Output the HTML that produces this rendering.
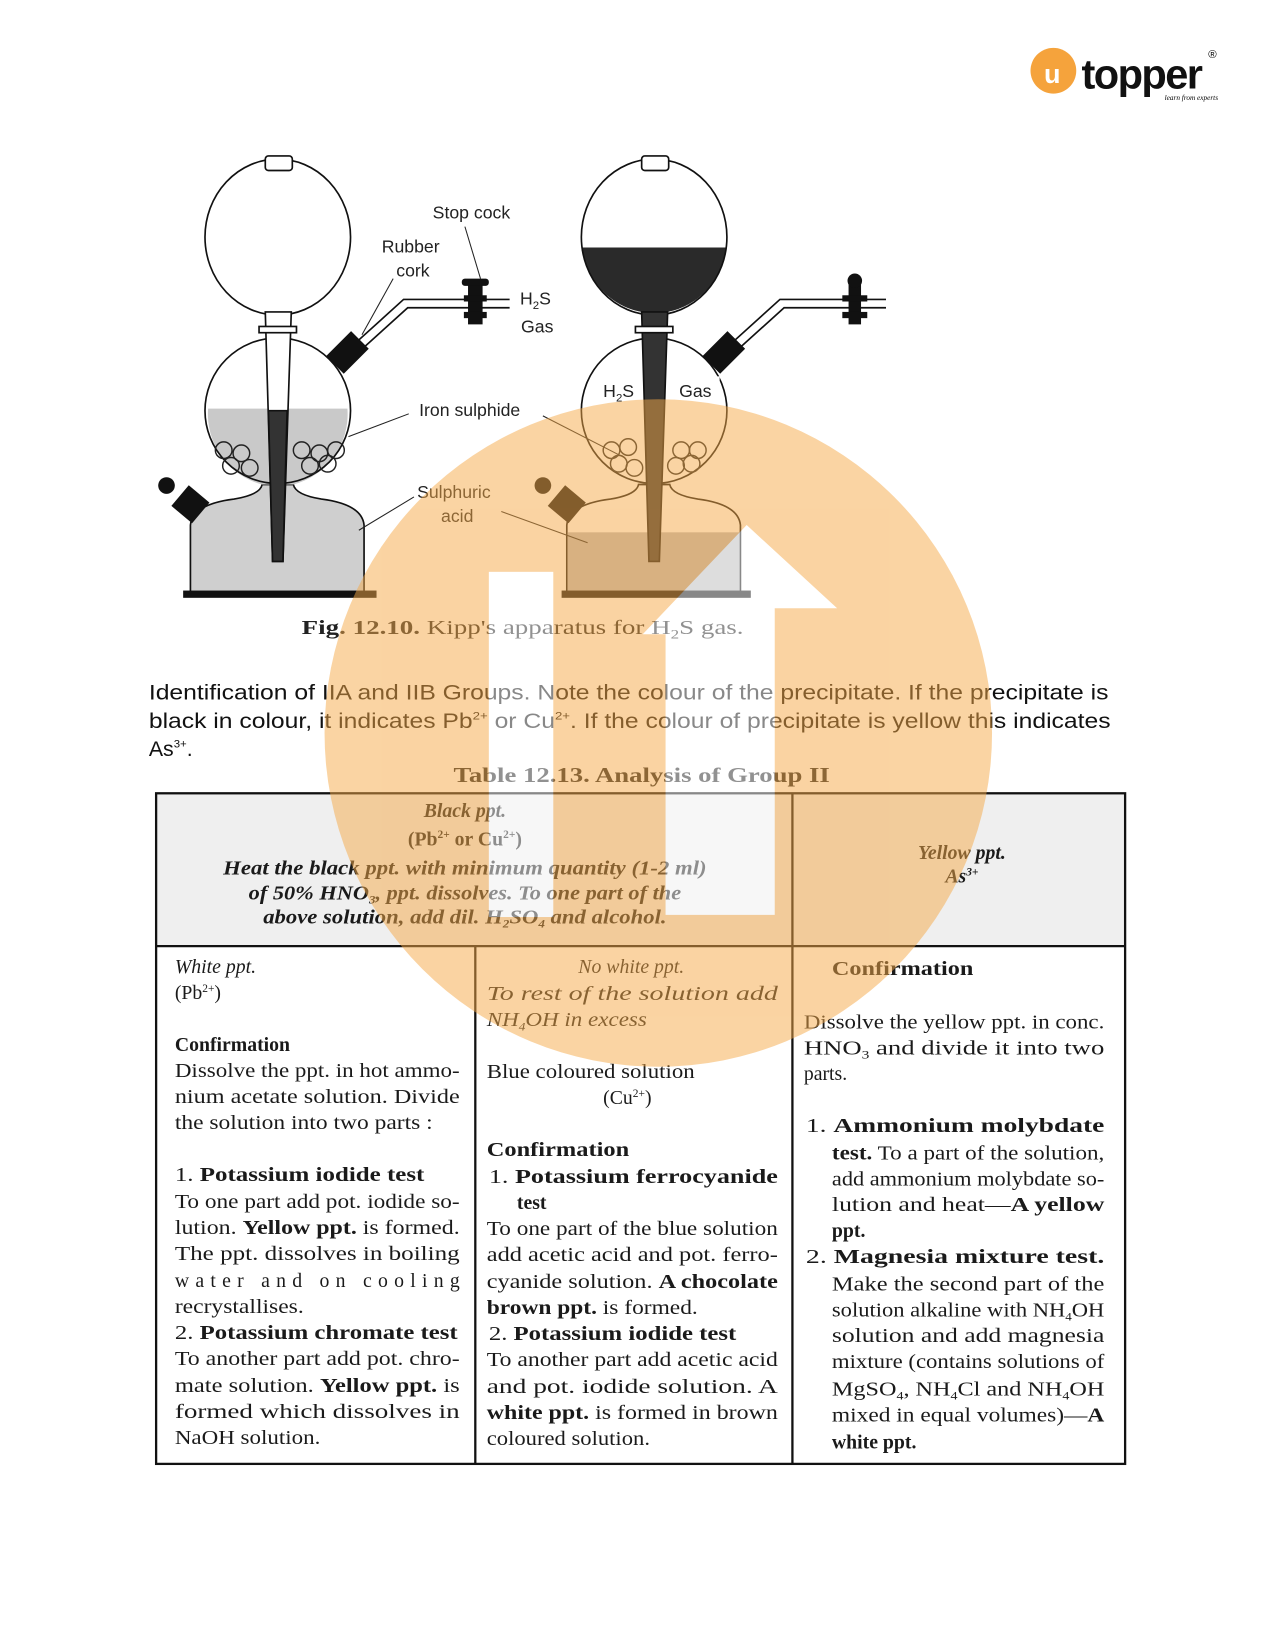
<!DOCTYPE html>
<html><head><meta charset="utf-8"><style>
html,body{margin:0;padding:0;background:#fff}
svg{display:block}
.sans{font-family:"Liberation Sans",sans-serif}
.serif{font-family:"Liberation Serif",serif}
</style></head><body>
<svg width="1275" height="1650" viewBox="0 0 1226 1587" xmlns="http://www.w3.org/2000/svg">
<!-- logo -->
<circle cx="1013" cy="68" r="22" fill="#f5a33c"/>
<text x="1004" y="80" font-size="26" fill="#fff" class="sans" font-weight="bold">u</text>
<text x="1040" y="85" font-size="40" class="sans" font-weight="bold" fill="#111" letter-spacing="-1.5">topper</text>
<text x="1162" y="56" font-size="11" class="sans">®</text>
<text x="1120" y="96" font-size="7" class="serif" font-style="italic">learn from experts</text>

<!-- LEFT APPARATUS -->
<g stroke="#111" stroke-width="1.6" fill="none">
 <path d="M183,570 L183,505 Q185,485 225,480 Q250,476 252,466 L282,466 Q284,476 309,480 Q348,485 350,505 L350,570 Z" fill="#cfcfcf"/>
 <path d="M200,393 L334,393 A70,70 0 0 1 282,466 L252,466 A70,70 0 0 1 200,393Z" fill="#c9c9c9" stroke="none"/>
 <circle cx="267" cy="395" r="70"/>
 <ellipse cx="267" cy="228" rx="70" ry="75"/>
 <rect x="255" y="150" width="26" height="14" rx="3" fill="#fff"/>
 <path d="M255,300 L262,540 L272,540 L280,300 Z" fill="#fff"/>
 <path d="M258,395 L262,540 L272,540 L276,395 Z" fill="#333"/>
 <rect x="249" y="314" width="36" height="6" fill="#fff"/>
 <path d="M330,352 L392,296 L490,296 M325,345 L388,288 L490,288"/>
</g>
<g fill="none" stroke="#222" stroke-width="1.4">
 <circle cx="215" cy="433" r="8"/><circle cx="232" cy="436" r="8"/><circle cx="290" cy="433" r="8"/><circle cx="307" cy="436" r="8"/><circle cx="323" cy="433" r="8"/>
 <circle cx="222" cy="448" r="8"/><circle cx="240" cy="450" r="8"/><circle cx="298" cy="448" r="8"/><circle cx="315" cy="446" r="8"/>
</g>
<g fill="#111">
 <rect x="322" y="322" width="24" height="34" transform="rotate(45 334 339)"/>
 <rect x="450" y="272" width="14" height="40"/><rect x="444" y="268" width="26" height="7" rx="3"/><rect x="446" y="300" width="22" height="6"/><rect x="446" y="284" width="22" height="6"/>
 <rect x="170" y="472" width="26" height="26" transform="rotate(40 183 485)"/><circle cx="160" cy="467" r="8"/>
 <rect x="176" y="568" width="186" height="7"/>
</g>

<!-- RIGHT APPARATUS -->
<g stroke="#111" stroke-width="1.6" fill="none">
 <path d="M545,570 L545,505 Q547,485 587,480 Q612,476 614,466 L644,466 Q646,476 671,480 Q710,485 712,505 L712,570 Z"/>
 <rect x="546" y="512" width="165" height="58" fill="#bbb" stroke="none"/>
 <circle cx="629" cy="395" r="70"/>
 <path d="M559,238 L699,238 A70,75 0 0 1 642,300 L617,300 A70,75 0 0 1 559,238Z" fill="#2a2a2a" stroke="none"/>
 <ellipse cx="629" cy="228" rx="70" ry="75"/>
 <rect x="617" y="150" width="26" height="14" rx="3" fill="#fff"/>
 <path d="M617,300 L624,540 L634,540 L642,300 Z" fill="#333"/>
 <rect x="611" y="314" width="36" height="6" fill="#fff"/>
 <path d="M692,352 L754,296 L852,296 M687,345 L750,288 L852,288"/>
</g>
<g fill="none" stroke="#222" stroke-width="1.4">
 <circle cx="588" cy="433" r="8"/><circle cx="604" cy="430" r="8"/><circle cx="655" cy="433" r="8"/><circle cx="671" cy="433" r="8"/>
 <circle cx="595" cy="446" r="8"/><circle cx="610" cy="450" r="8"/><circle cx="650" cy="448" r="8"/><circle cx="665" cy="446" r="8"/>
</g>
<g fill="#111">
 <rect x="684" y="322" width="24" height="34" transform="rotate(45 696 339)"/>
 <rect x="816" y="272" width="12" height="40"/><circle cx="822" cy="270" r="7"/><rect x="810" y="300" width="24" height="6"/><rect x="810" y="284" width="24" height="6"/>
 <rect x="532" y="472" width="26" height="26" transform="rotate(40 545 485)"/><circle cx="522" cy="467" r="8"/>
 <rect x="540" y="568" width="182" height="7"/>
</g>
<rect x="578" y="362" width="35" height="28" fill="#fff"/><rect x="646" y="362" width="46" height="28" fill="#fff"/>

<!-- leaders -->
<g stroke="#222" stroke-width="1">
 <line x1="447" y1="218" x2="462" y2="268"/><line x1="378" y1="268" x2="348" y2="322"/>
 <line x1="393" y1="398" x2="335" y2="420"/><line x1="522" y1="400" x2="600" y2="440"/>
 <line x1="398" y1="478" x2="345" y2="510"/><line x1="482" y1="492" x2="565" y2="522"/>
</g>
<g class="sans" font-size="17" fill="#222">
 <text x="416" y="210">Stop cock</text><text x="367" y="243">Rubber</text><text x="381" y="266">cork</text>
 <text x="500" y="293">H<tspan font-size="11" dy="4">2</tspan><tspan dy="-4">S</tspan></text><text x="501" y="320">Gas</text>
 <text x="403" y="400">Iron sulphide</text><text x="401" y="479">Sulphuric</text><text x="424" y="502">acid</text>
 <text x="580" y="382">H<tspan font-size="11" dy="4">2</tspan><tspan dy="-4">S</tspan></text><text x="653" y="382">Gas</text>
</g>
<text x="290" y="610" class="serif" font-size="19" fill="#222" textLength="425" lengthAdjust="spacingAndGlyphs"><tspan font-weight="bold">Fig. 12.10.</tspan> Kipp's apparatus for H<tspan font-size="12" dy="4">2</tspan><tspan dy="-4">S gas.</tspan></text>

<!-- intro -->
<g class="sans" font-size="20.5" fill="#111">
 <text x="143" y="673" textLength="923" lengthAdjust="spacingAndGlyphs">Identification of IIA and IIB Groups. Note the colour of the precipitate. If the precipitate is</text>
 <text x="143" y="700" textLength="925" lengthAdjust="spacingAndGlyphs">black in colour, it indicates Pb<tspan font-size="11" dy="-8">2+</tspan><tspan dy="8"> or Cu</tspan><tspan font-size="11" dy="-8">2+</tspan><tspan dy="8">. If the colour of precipitate is yellow this indicates</tspan></text>
 <text x="143" y="727">As<tspan font-size="11" dy="-8">3+</tspan><tspan dy="8">.</tspan></text>
</g>
<text x="617" y="752" text-anchor="middle" class="serif" font-size="20" font-weight="bold" fill="#222" textLength="362" lengthAdjust="spacingAndGlyphs">Table 12.13. Analysis of Group II</text>

<!-- table -->
<rect x="150" y="763" width="932" height="147" fill="#efefef"/>
<g stroke="#111" stroke-width="2.2" fill="none">
 <rect x="150" y="763" width="932" height="645"/>
 <line x1="150" y1="910" x2="1082" y2="910"/>
 <line x1="762" y1="763" x2="762" y2="1408"/>
 <line x1="457" y1="910" x2="457" y2="1408"/>
</g>
<g class="serif" font-size="19" fill="#1a1a1a">
 <g text-anchor="middle" font-style="italic">
  <text x="447" y="786" font-weight="bold">Black ppt.</text>
  <text x="447" y="813" font-weight="bold" font-style="normal">(Pb<tspan font-size="11" dy="-7">2+</tspan><tspan dy="7"> or Cu</tspan><tspan font-size="11" dy="-7">2+</tspan><tspan dy="7">)</tspan></text>
  <text x="447" y="841" font-weight="bold" textLength="465" lengthAdjust="spacingAndGlyphs">Heat the black ppt. with minimum quantity (1-2 ml)</text>
  <text x="447" y="865" font-weight="bold" textLength="416" lengthAdjust="spacingAndGlyphs">of 50% HNO<tspan font-size="11" dy="4">3</tspan><tspan dy="-4">, ppt. dissolves. To one part of the</tspan></text>
  <text x="447" y="888" font-weight="bold" textLength="388" lengthAdjust="spacingAndGlyphs">above solution, add dil. H<tspan font-size="11" dy="4">2</tspan><tspan dy="-4">SO</tspan><tspan font-size="11" dy="4">4</tspan><tspan dy="-4"> and alcohol.</tspan></text>
  <text x="925" y="826" font-weight="bold">Yellow ppt.</text>
  <text x="925" y="849" font-weight="bold">As<tspan font-size="11" dy="-7">3+</tspan></text>
 </g>
 <!-- col 1 -->
 <text x="168" y="936" font-style="italic">White ppt.</text>
 <text x="168" y="961">(Pb<tspan font-size="11" dy="-7">2+</tspan><tspan dy="7">)</tspan></text>
 <text x="168" y="1011" font-weight="bold">Confirmation</text>
 <text x="168" y="1036" textLength="274" lengthAdjust="spacingAndGlyphs">Dissolve the ppt. in hot ammo-</text>
 <text x="168" y="1061" textLength="274" lengthAdjust="spacingAndGlyphs">nium acetate solution. Divide</text>
 <text x="168" y="1086" textLength="248" lengthAdjust="spacingAndGlyphs">the solution into two parts :</text>
 <text x="168" y="1136" textLength="240" lengthAdjust="spacingAndGlyphs">1. <tspan font-weight="bold">Potassium iodide test</tspan></text>
 <text x="168" y="1162" textLength="274" lengthAdjust="spacingAndGlyphs">To one part add pot. iodide so-</text>
 <text x="168" y="1187" textLength="274" lengthAdjust="spacingAndGlyphs">lution. <tspan font-weight="bold">Yellow ppt.</tspan> is formed.</text>
 <text x="168" y="1212" textLength="274" lengthAdjust="spacingAndGlyphs">The ppt. dissolves in boiling</text>
 <text x="168" y="1238" textLength="274" lengthAdjust="spacing">water and on cooling</text>
 <text x="168" y="1263" textLength="124" lengthAdjust="spacingAndGlyphs">recrystallises.</text>
 <text x="168" y="1288" textLength="272" lengthAdjust="spacingAndGlyphs">2. <tspan font-weight="bold">Potassium chromate test</tspan></text>
 <text x="168" y="1313" textLength="274" lengthAdjust="spacingAndGlyphs">To another part add pot. chro-</text>
 <text x="168" y="1339" textLength="274" lengthAdjust="spacingAndGlyphs">mate solution. <tspan font-weight="bold">Yellow ppt.</tspan> is</text>
 <text x="168" y="1364" textLength="274" lengthAdjust="spacingAndGlyphs">formed which dissolves in</text>
 <text x="168" y="1389" textLength="140" lengthAdjust="spacingAndGlyphs">NaOH solution.</text>
 <!-- col 2 -->
 <text x="607" y="936" font-style="italic" text-anchor="middle">No white ppt.</text>
 <text x="468" y="962" font-style="italic" textLength="280" lengthAdjust="spacingAndGlyphs">To rest of the solution add</text>
 <text x="468" y="987" font-style="italic" textLength="154" lengthAdjust="spacingAndGlyphs">NH<tspan font-size="11" dy="4">4</tspan><tspan dy="-4">OH in excess</tspan></text>
 <text x="468" y="1037" textLength="200" lengthAdjust="spacingAndGlyphs">Blue coloured solution</text>
 <text x="580" y="1062">(Cu<tspan font-size="11" dy="-7">2+</tspan><tspan dy="7">)</tspan></text>
 <text x="468" y="1112" font-weight="bold" textLength="137" lengthAdjust="spacingAndGlyphs">Confirmation</text>
 <text x="470" y="1138" textLength="278" lengthAdjust="spacingAndGlyphs">1. <tspan font-weight="bold">Potassium ferrocyanide</tspan></text>
 <text x="497" y="1163" font-weight="bold">test</text>
 <text x="468" y="1188" textLength="280" lengthAdjust="spacingAndGlyphs">To one part of the blue solution</text>
 <text x="468" y="1213" textLength="280" lengthAdjust="spacingAndGlyphs">add acetic acid and pot. ferro-</text>
 <text x="468" y="1239" textLength="280" lengthAdjust="spacingAndGlyphs">cyanide solution. <tspan font-weight="bold">A chocolate</tspan></text>
 <text x="468" y="1264" textLength="203" lengthAdjust="spacingAndGlyphs"><tspan font-weight="bold">brown ppt.</tspan> is formed.</text>
 <text x="470" y="1289" textLength="238" lengthAdjust="spacingAndGlyphs">2. <tspan font-weight="bold">Potassium iodide test</tspan></text>
 <text x="468" y="1314" textLength="280" lengthAdjust="spacingAndGlyphs">To another part add acetic acid</text>
 <text x="468" y="1340" textLength="280" lengthAdjust="spacingAndGlyphs">and pot. iodide solution. A</text>
 <text x="468" y="1365" textLength="280" lengthAdjust="spacingAndGlyphs"><tspan font-weight="bold">white ppt.</tspan> is formed in brown</text>
 <text x="468" y="1390" textLength="157" lengthAdjust="spacingAndGlyphs">coloured solution.</text>
 <!-- col 3 -->
 <text x="800" y="938" font-weight="bold" textLength="136" lengthAdjust="spacingAndGlyphs">Confirmation</text>
 <text x="773" y="989" textLength="289" lengthAdjust="spacingAndGlyphs">Dissolve the yellow ppt. in conc.</text>
 <text x="773" y="1014" textLength="289" lengthAdjust="spacingAndGlyphs">HNO<tspan font-size="11" dy="4">3</tspan><tspan dy="-4"> and divide it into two</tspan></text>
 <text x="773" y="1039">parts.</text>
 <text x="775" y="1089" textLength="287" lengthAdjust="spacingAndGlyphs">1. <tspan font-weight="bold">Ammonium molybdate</tspan></text>
 <text x="800" y="1115" textLength="262" lengthAdjust="spacingAndGlyphs"><tspan font-weight="bold">test.</tspan> To a part of the solution,</text>
 <text x="800" y="1140" textLength="262" lengthAdjust="spacingAndGlyphs">add ammonium molybdate so-</text>
 <text x="800" y="1165" textLength="262" lengthAdjust="spacingAndGlyphs">lution and heat—<tspan font-weight="bold">A yellow</tspan></text>
 <text x="800" y="1190" font-weight="bold">ppt.</text>
 <text x="775" y="1215" textLength="287" lengthAdjust="spacingAndGlyphs">2. <tspan font-weight="bold">Magnesia mixture test.</tspan></text>
 <text x="800" y="1241" textLength="262" lengthAdjust="spacingAndGlyphs">Make the second part of the</text>
 <text x="800" y="1266" textLength="262" lengthAdjust="spacingAndGlyphs">solution alkaline with NH<tspan font-size="11" dy="4">4</tspan><tspan dy="-4">OH</tspan></text>
 <text x="800" y="1291" textLength="262" lengthAdjust="spacingAndGlyphs">solution and add magnesia</text>
 <text x="800" y="1316" textLength="262" lengthAdjust="spacingAndGlyphs">mixture (contains solutions of</text>
 <text x="800" y="1342" textLength="262" lengthAdjust="spacingAndGlyphs">MgSO<tspan font-size="11" dy="4">4</tspan><tspan dy="-4">, NH</tspan><tspan font-size="11" dy="4">4</tspan><tspan dy="-4">Cl and NH</tspan><tspan font-size="11" dy="4">4</tspan><tspan dy="-4">OH</tspan></text>
 <text x="800" y="1367" textLength="262" lengthAdjust="spacingAndGlyphs">mixed in equal volumes)—<tspan font-weight="bold">A</tspan></text>
 <text x="800" y="1393" font-weight="bold">white ppt.</text>
</g>

<!-- watermark -->
<g opacity="0.5">
 <circle cx="633" cy="705" r="321" fill="#f6a948"/>
 <rect x="470" y="550" width="62" height="332" fill="#fff"/>
 <path d="M640,880 L640,610 L618,610 L718,505 L805,585 L745,585 L745,880 Z" fill="#fff"/>
</g>
</svg>
</body></html>
